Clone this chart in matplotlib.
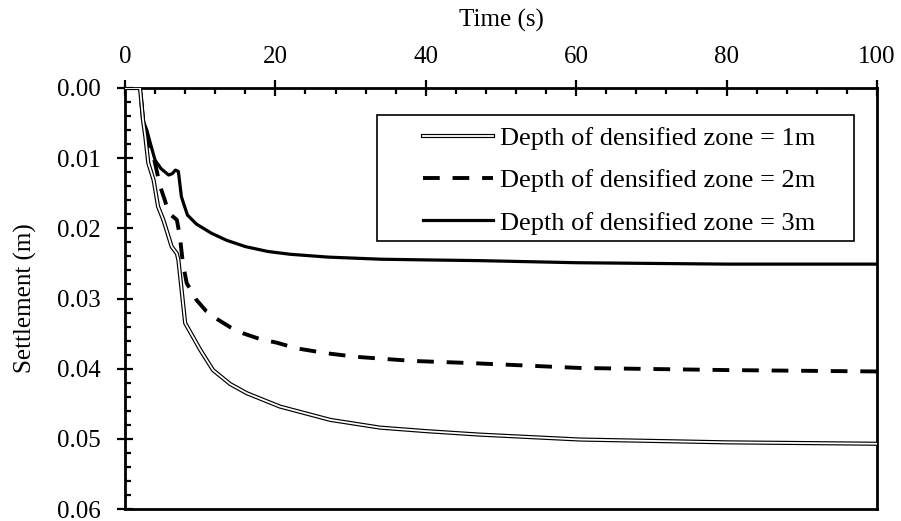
import numpy as np
import matplotlib
matplotlib.use('agg')
import matplotlib.pyplot as plt
import matplotlib.ticker as mticker
from matplotlib.patches import Rectangle
from matplotlib.legend_handler import HandlerTuple

plt.rcParams['font.family'] = ['Liberation Serif', 'DejaVu Serif']

# depth of densified zone = 1m (double line)
t1 = [0, 2.0, 2.4, 2.7, 3.1, 3.8, 4.4, 5.1, 5.8, 6.2, 6.9, 7.1, 8.0, 10.0,
      11.7, 14.0, 16.2, 20.6, 27.3, 33.9, 40.0, 47.2, 60.5, 80.0, 100.0]
s1 = [0, 0, 0.0046, 0.0069, 0.0107, 0.0131, 0.0169, 0.0188, 0.0212, 0.0226,
      0.0236, 0.0245, 0.0335, 0.0373, 0.0402, 0.0422, 0.0435, 0.0454, 0.0473,
      0.0484, 0.0489, 0.0494, 0.0501, 0.0505, 0.0507]

# depth of densified zone = 2m (dashed)
t2 = [0, 2.0, 2.4, 2.7, 3.1, 3.8, 4.7, 5.3, 5.8, 6.9, 7.3, 7.7, 8.2, 9.5,
      10.8, 12.2, 14.0, 15.8, 18.0, 20.2, 22.8, 26.8, 30.6, 34.4, 38.3, 45.9,
      60.5, 80.0, 100.0]
s2 = [0, 0, 0.0046, 0.0060, 0.0076, 0.0098, 0.0141, 0.0160, 0.0178, 0.0188,
      0.0212, 0.0250, 0.0278, 0.0302, 0.0318, 0.0329, 0.0341, 0.0350, 0.0358,
      0.0363, 0.0371, 0.0378, 0.0383, 0.0386, 0.0389, 0.0392, 0.0399, 0.0402,
      0.0404]

# depth of densified zone = 3m (solid)
t3 = [0, 2.0, 2.2, 2.4, 2.9, 3.3, 4.0, 4.8, 5.8, 6.3, 6.7, 7.1, 7.5, 8.3,
      9.5, 11.5, 13.5, 16.0, 19.0, 22.0, 27.0, 34.0, 40.0, 47.0, 60.0, 80.0,
      100.0]
s3 = [0, 0, 0.0017, 0.0046, 0.0060, 0.0076, 0.0103, 0.0115, 0.0124, 0.0122,
      0.0117, 0.0119, 0.0155, 0.0181, 0.0194, 0.0207, 0.0217, 0.0226, 0.0233,
      0.0237, 0.0241, 0.0244, 0.0245, 0.0246, 0.0249, 0.0251, 0.0251]

labels = ['Depth of densified zone = 1m',
          'Depth of densified zone = 2m',
          'Depth of densified zone = 3m']

fig = plt.figure(figsize=(9.01, 5.21), dpi=100)
ax = fig.add_axes([125/901., 1-509/521., 752/901., 421/521.])

l1b, = ax.plot(t1, s1, color='black', lw=3.0, solid_joinstyle='miter', zorder=3)
l1w, = ax.plot(t1, s1, color='white', lw=1.3, solid_joinstyle='miter', zorder=4)
l2, = ax.plot(t2, s2, color='black', lw=2.8, linestyle=(0, (4.3, 3.3)), zorder=3)
l3, = ax.plot(t3, s3, color='black', lw=2.3, zorder=3)

ax.set_xlim(0, 100)
ax.set_ylim(0.06, 0)
ax.xaxis.set_ticks_position('top')
ax.xaxis.set_label_position('top')
ax.xaxis.set_major_locator(mticker.MultipleLocator(20))
ax.xaxis.set_minor_locator(mticker.MultipleLocator(4))
ax.yaxis.set_major_locator(mticker.MultipleLocator(0.01))
ax.yaxis.set_minor_locator(mticker.MultipleLocator(0.002))
ax.yaxis.set_major_formatter(mticker.FormatStrFormatter('%.2f'))

for sp in ax.spines.values():
    sp.set_linewidth(2.0)
ax.tick_params(which='major', direction='inout', length=11, width=1.6,
               labelsize=18)
ax.tick_params(which='minor', direction='in', length=4.5, width=1.6)
ax.tick_params(axis='x', which='both', top=True, bottom=False)
ax.tick_params(axis='x', which='major', pad=9)
ax.tick_params(axis='y', which='both', left=True, right=False)
ax.tick_params(axis='y', which='major', pad=12)

ax.set_xlabel('Time (s)', fontsize=18, labelpad=14)
ax.set_ylabel('Settlement (m)', fontsize=18, labelpad=14)

# legend frame
ax.add_patch(Rectangle((0.335, 0.637), 0.634, 0.299, transform=ax.transAxes,
                       fill=False, edgecolor='black', lw=1.2, zorder=5))
leg = ax.legend([(l1b, l1w), l2, l3], labels,
                handler_map={tuple: HandlerTuple(ndivide=1)},
                loc='upper left', bbox_to_anchor=(0.396, 0.909),
                frameon=False, fontsize=19, handlelength=2.65,
                handletextpad=0.28, labelspacing=0.72, borderpad=0,
                borderaxespad=0)
leg.set_zorder(6)

plt.savefig('out.png', dpi=100)
